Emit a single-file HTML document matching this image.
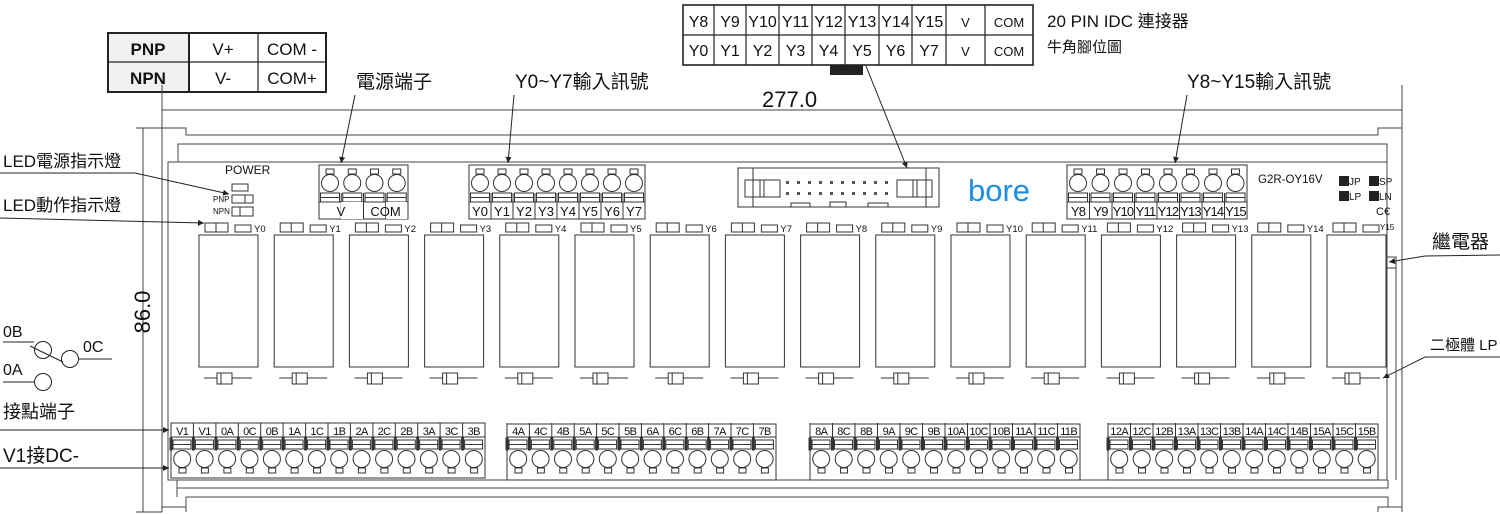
<!DOCTYPE html>
<html><head><meta charset="utf-8"><style>
html,body{margin:0;padding:0;background:#fff;}
svg{display:block;font-family:"Liberation Sans","Noto Sans CJK TC",sans-serif;}
</style></head><body>
<svg width="1500" height="515" viewBox="0 0 1500 515" xmlns="http://www.w3.org/2000/svg">
<defs>
<marker id="ar" viewBox="0 0 10 10" refX="10" refY="5" markerWidth="10" markerHeight="6" orient="auto-start-reverse" markerUnits="userSpaceOnUse"><path d="M0,0L10,5L0,10z" fill="#222"/></marker>
<g id="unit" fill="none" stroke="#333" stroke-width="1">
<rect x="6" y="223" width="23" height="9"/><line x1="17" y1="223" x2="17" y2="232"/>
<rect x="36" y="225" width="16" height="7"/>
<rect x="0" y="235" width="59" height="132"/>
<line x1="5" y1="378" x2="18" y2="378"/><line x1="33" y1="378" x2="53" y2="378"/>
<rect x="18" y="373" width="15" height="11"/><line x1="22" y1="373" x2="22" y2="384"/>
</g>
<g id="bt" fill="none" stroke="#333" stroke-width="1">
<line x1="0" y1="423" x2="0" y2="437"/>
<rect x="2" y="440" width="18" height="9"/><line x1="2" y1="444.5" x2="20" y2="444.5"/>
<rect x="-1" y="438" width="2" height="12" fill="#333"/>
<circle cx="11.2" cy="459" r="8.5"/>
<rect x="8" y="468" width="7" height="5"/>
</g>
<g id="tt" fill="none" stroke="#333" stroke-width="1">
<rect x="7" y="169" width="8" height="5"/>
<circle cx="11" cy="183" r="8.5"/>
<rect x="1.5" y="193" width="19" height="9"/><line x1="1.5" y1="197.5" x2="20.5" y2="197.5"/>
<line x1="0" y1="193" x2="0" y2="219"/>
</g>
</defs>

<!-- PNP table -->
<g stroke="#222" stroke-width="2" fill="none">
<rect x="108" y="33" width="81" height="59" fill="#f1f1f1"/>
<rect x="108" y="33" width="218" height="59"/>
<line x1="108" y1="62" x2="326" y2="62" stroke-width="1.2"/>
<line x1="189" y1="33" x2="189" y2="92" stroke-width="1.2"/><line x1="258" y1="33" x2="258" y2="92" stroke-width="1.2"/>
</g>
<g font-size="17" fill="#111" text-anchor="middle">
<text x="148" y="55" font-weight="bold">PNP</text><text x="148" y="84" font-weight="bold">NPN</text>
<text x="223" y="55">V+</text><text x="223" y="84">V-</text>
<text x="292" y="55">COM -</text><text x="292" y="84">COM+</text>
</g>

<!-- IDC table -->
<g stroke="#222" stroke-width="1.2" fill="none">
<rect x="683" y="5" width="350" height="60" stroke-width="1.6"/>
<line x1="683" y1="35" x2="1033" y2="35"/>
<line x1="714" y1="5" x2="714" y2="65"/><line x1="746" y1="5" x2="746" y2="65"/><line x1="779" y1="5" x2="779" y2="65"/><line x1="812" y1="5" x2="812" y2="65"/><line x1="845" y1="5" x2="845" y2="65"/><line x1="879" y1="5" x2="879" y2="65"/><line x1="912" y1="5" x2="912" y2="65"/><line x1="946" y1="5" x2="946" y2="65"/><line x1="985" y1="5" x2="985" y2="65"/>
</g>
<rect x="830" y="65" width="33" height="10" fill="#222"/>
<g font-size="16" fill="#111" text-anchor="middle">
<text x="698.5" y="27">Y8</text><text x="730" y="27">Y9</text><text x="762.5" y="27">Y10</text><text x="795.5" y="27">Y11</text><text x="828.5" y="27">Y12</text><text x="862" y="27">Y13</text><text x="895.5" y="27">Y14</text><text x="929" y="27">Y15</text><text x="965.5" y="27" font-size="13">V</text><text x="1009" y="27" font-size="13">COM</text>
<text x="698.5" y="56">Y0</text><text x="730" y="56">Y1</text><text x="762.5" y="56">Y2</text><text x="795.5" y="56">Y3</text><text x="828.5" y="56">Y4</text><text x="862" y="56">Y5</text><text x="895.5" y="56">Y6</text><text x="929" y="56">Y7</text><text x="965.5" y="56" font-size="13">V</text><text x="1009" y="56" font-size="13">COM</text>
</g>
<text x="1047" y="27" font-size="17" fill="#111">20 PIN IDC 連接器</text>
<text x="1047" y="52" font-size="15" fill="#111">牛角腳位圖</text>

<!-- top labels -->
<g font-size="19" fill="#111">
<text x="356" y="88">電源端子</text><text x="515" y="88">Y0~Y7輸入訊號</text><text x="1187" y="88">Y8~Y15輸入訊號</text>
</g>
<text x="762" y="107" font-size="22" fill="#111">277.0</text>

<!-- dimension & frame -->
<g stroke="#444" stroke-width="1" fill="none">
<line x1="162" y1="85" x2="162" y2="512"/><line x1="1402" y1="85" x2="1402" y2="512"/>
<line x1="162" y1="110" x2="1402" y2="110"/>
<line x1="143" y1="128" x2="143" y2="512"/><line x1="136" y1="128" x2="162" y2="128"/><line x1="136" y1="512" x2="162" y2="512"/>
<path d="M162,128H186V135H1378V128H1402"/>
<path d="M178,162V144H1387V162"/>
<rect x="168" y="162" width="1219" height="318"/>
<path d="M1387,162V257H1396V268H1387M1396,268V480"/>
<path d="M177,480V488H1388V480"/>
<path d="M186,497H1388V507"/>
<path d="M162,507H186V512M1378,512V507H1402"/>
<line x1="177" y1="488" x2="177" y2="497"/><line x1="186" y1="497" x2="186" y2="507"/>
</g>
<text transform="translate(150,312) rotate(-90)" font-size="22" fill="#111" text-anchor="middle">86.0</text>

<!-- relay units -->
<use href="#unit" x="199"/><use href="#unit" x="274.2"/><use href="#unit" x="349.4"/><use href="#unit" x="424.6"/>
<use href="#unit" x="499.8"/><use href="#unit" x="575"/><use href="#unit" x="650.2"/><use href="#unit" x="725.4"/>
<use href="#unit" x="800.6"/><use href="#unit" x="875.8"/><use href="#unit" x="951"/><use href="#unit" x="1026.2"/>
<use href="#unit" x="1101.4"/><use href="#unit" x="1176.6"/><use href="#unit" x="1251.8"/><use href="#unit" x="1327"/>
<g font-size="9.5" fill="#111">
<text x="254" y="232">Y0</text><text x="329.2" y="232">Y1</text><text x="404.4" y="232">Y2</text><text x="479.6" y="232">Y3</text>
<text x="554.8" y="232">Y4</text><text x="630" y="232">Y5</text><text x="705.2" y="232">Y6</text><text x="780.4" y="232">Y7</text>
<text x="855.6" y="232">Y8</text><text x="930.8" y="232">Y9</text><text x="1006" y="232">Y10</text><text x="1081.2" y="232">Y11</text>
<text x="1156.4" y="232">Y12</text><text x="1231.6" y="232">Y13</text><text x="1306.8" y="232">Y14</text><text x="1380" y="230" font-size="8">Y15</text>
</g>

<!-- power LEDs -->
<text x="225" y="174" font-size="12" fill="#111">POWER</text>
<g fill="none" stroke="#333">
<rect x="232" y="184" width="16" height="7"/>
<rect x="232" y="195" width="21" height="8"/><line x1="245" y1="195" x2="245" y2="203"/>
<rect x="232" y="207" width="21" height="9"/><line x1="240" y1="207" x2="240" y2="216"/>
</g>
<text x="213" y="202" font-size="8" fill="#111">PNP</text><text x="213" y="214" font-size="8" fill="#111">NPN</text>

<!-- top terminal blocks -->
<rect x="319" y="165" width="89" height="54" fill="none" stroke="#333"/>
<line x1="319" y1="202" x2="408" y2="202" stroke="#333"/>
<use href="#tt" x="319"/><use href="#tt" x="341.25"/><use href="#tt" x="363.5"/><use href="#tt" x="385.75"/>
<rect x="341" y="202" width="22" height="17" fill="#fff"/><rect x="386" y="202" width="21" height="17" fill="#fff"/>
<line x1="363.5" y1="202" x2="363.5" y2="219" stroke="#333"/>
<text x="341" y="216" font-size="13" text-anchor="middle" fill="#111">V</text><text x="385.5" y="216" font-size="13" text-anchor="middle" fill="#111">COM</text>

<rect x="469" y="165" width="176" height="54" fill="none" stroke="#333"/>
<line x1="469" y1="202" x2="645" y2="202" stroke="#333"/>
<use href="#tt" x="469"/><use href="#tt" x="491"/><use href="#tt" x="513"/><use href="#tt" x="535"/><use href="#tt" x="557"/><use href="#tt" x="579"/><use href="#tt" x="601"/><use href="#tt" x="623"/>
<g font-size="13" text-anchor="middle" fill="#111">
<text x="480" y="216">Y0</text><text x="502" y="216">Y1</text><text x="524" y="216">Y2</text><text x="546" y="216">Y3</text><text x="568" y="216">Y4</text><text x="590" y="216">Y5</text><text x="612" y="216">Y6</text><text x="634" y="216">Y7</text>
</g>

<rect x="1067" y="165" width="180" height="54" fill="none" stroke="#333"/>
<line x1="1067" y1="202" x2="1247" y2="202" stroke="#333"/>
<use href="#tt" x="1067"/><use href="#tt" x="1089.5"/><use href="#tt" x="1112"/><use href="#tt" x="1134.5"/><use href="#tt" x="1157"/><use href="#tt" x="1179.5"/><use href="#tt" x="1202"/><use href="#tt" x="1224.5"/>
<g font-size="13" text-anchor="middle" fill="#111" letter-spacing="-0.8">
<text x="1078" y="216">Y8</text><text x="1100.5" y="216">Y9</text><text x="1123" y="216">Y10</text><text x="1145.5" y="216">Y11</text><text x="1168" y="216">Y12</text><text x="1190.5" y="216">Y13</text><text x="1213" y="216">Y14</text><text x="1235.5" y="216">Y15</text>
</g>

<!-- IDC header -->
<g fill="none" stroke="#333">
<rect x="738" y="168" width="201" height="39"/>
<path d="M753,168V207M926,168V207"/>
<path d="M745,180H780V197H745Z"/><path d="M760,180V197M764,180V197"/>
<path d="M932,180H897V197H932Z"/><path d="M917,180V197M913,180V197"/>
<rect x="791" y="203" width="19" height="4"/><rect x="830" y="202" width="16" height="5"/><rect x="868" y="203" width="20" height="4"/>
</g>
<g fill="#555">
<rect x="786" y="181" width="3" height="3"/><rect x="797" y="181" width="3" height="3"/><rect x="808" y="181" width="3" height="3"/><rect x="819" y="181" width="3" height="3"/><rect x="830" y="181" width="3" height="3"/><rect x="841" y="181" width="3" height="3"/><rect x="852" y="181" width="3" height="3"/><rect x="863" y="181" width="3" height="3"/><rect x="874" y="181" width="3" height="3"/><rect x="885" y="181" width="3" height="3"/>
<rect x="786" y="192" width="3" height="3"/><rect x="797" y="192" width="3" height="3"/><rect x="808" y="192" width="3" height="3"/><rect x="819" y="192" width="3" height="3"/><rect x="830" y="192" width="3" height="3"/><rect x="841" y="192" width="3" height="3"/><rect x="852" y="192" width="3" height="3"/><rect x="863" y="192" width="3" height="3"/><rect x="874" y="192" width="3" height="3"/><rect x="885" y="192" width="3" height="3"/>
</g>
<text x="968" y="201" font-size="31" fill="#1e8fe0" font-weight="normal">bore</text>

<text x="1258" y="183" font-size="11.5" fill="#111">G2R-OY16V</text>
<g fill="#222"><rect x="1339" y="176" width="10" height="10"/><rect x="1369" y="176" width="10" height="10"/><rect x="1339" y="191" width="10" height="10"/><rect x="1369" y="191" width="10" height="10"/></g>
<g font-size="10" fill="#111"><text x="1349" y="185">JP</text><text x="1379" y="185">SP</text><text x="1349" y="200">LP</text><text x="1379" y="200">LN</text><text x="1376" y="215" font-size="11">C€</text></g>

<!-- bottom terminal blocks -->
<g fill="none" stroke="#333">
<rect x="171" y="423" width="314" height="55"/><line x1="171" y1="437" x2="485" y2="437"/>
<rect x="507" y="424" width="269" height="56"/><line x1="507" y1="437" x2="776" y2="437"/>
<rect x="810" y="424" width="270" height="56"/><line x1="810" y1="437" x2="1080" y2="437"/>
<rect x="1108" y="424" width="270" height="56"/><line x1="1108" y1="437" x2="1378" y2="437"/>
</g>
<use href="#bt" x="171"/><use href="#bt" x="193.4"/><use href="#bt" x="215.9"/><use href="#bt" x="238.3"/><use href="#bt" x="260.7"/><use href="#bt" x="283.1"/><use href="#bt" x="305.6"/><use href="#bt" x="328"/><use href="#bt" x="350.4"/><use href="#bt" x="372.9"/><use href="#bt" x="395.3"/><use href="#bt" x="417.7"/><use href="#bt" x="440.1"/><use href="#bt" x="462.6"/>
<use href="#bt" x="507"/><use href="#bt" x="529.4"/><use href="#bt" x="551.8"/><use href="#bt" x="574.2"/><use href="#bt" x="596.6"/><use href="#bt" x="619"/><use href="#bt" x="641.4"/><use href="#bt" x="663.8"/><use href="#bt" x="686.2"/><use href="#bt" x="708.6"/><use href="#bt" x="731"/><use href="#bt" x="753.4"/>
<use href="#bt" x="810"/><use href="#bt" x="832.5"/><use href="#bt" x="855"/><use href="#bt" x="877.5"/><use href="#bt" x="900"/><use href="#bt" x="922.5"/><use href="#bt" x="945"/><use href="#bt" x="967.5"/><use href="#bt" x="990"/><use href="#bt" x="1012.5"/><use href="#bt" x="1035"/><use href="#bt" x="1057.5"/>
<use href="#bt" x="1108"/><use href="#bt" x="1130.5"/><use href="#bt" x="1153"/><use href="#bt" x="1175.5"/><use href="#bt" x="1198"/><use href="#bt" x="1220.5"/><use href="#bt" x="1243"/><use href="#bt" x="1265.5"/><use href="#bt" x="1288"/><use href="#bt" x="1310.5"/><use href="#bt" x="1333"/><use href="#bt" x="1355.5"/>
<g font-size="11" text-anchor="middle" fill="#111" letter-spacing="-0.6">
<text x="182.2" y="435">V1</text><text x="204.6" y="435">V1</text><text x="227.1" y="435">0A</text><text x="249.5" y="435">0C</text><text x="271.9" y="435">0B</text><text x="294.3" y="435">1A</text><text x="316.8" y="435">1C</text><text x="339.2" y="435">1B</text><text x="361.6" y="435">2A</text><text x="384.1" y="435">2C</text><text x="406.5" y="435">2B</text><text x="428.9" y="435">3A</text><text x="451.3" y="435">3C</text><text x="473.8" y="435">3B</text>
<text x="518.2" y="435">4A</text><text x="540.6" y="435">4C</text><text x="563" y="435">4B</text><text x="585.4" y="435">5A</text><text x="607.8" y="435">5C</text><text x="630.2" y="435">5B</text><text x="652.6" y="435">6A</text><text x="675" y="435">6C</text><text x="697.4" y="435">6B</text><text x="719.8" y="435">7A</text><text x="742.2" y="435">7C</text><text x="764.6" y="435">7B</text>
<text x="821.2" y="435">8A</text><text x="843.7" y="435">8C</text><text x="866.2" y="435">8B</text><text x="888.7" y="435">9A</text><text x="911.2" y="435">9C</text><text x="933.7" y="435">9B</text><text x="956.2" y="435">10A</text><text x="978.7" y="435">10C</text><text x="1001.2" y="435">10B</text><text x="1023.7" y="435">11A</text><text x="1046.2" y="435">11C</text><text x="1068.7" y="435">11B</text>
<text x="1119.2" y="435">12A</text><text x="1141.7" y="435">12C</text><text x="1164.2" y="435">12B</text><text x="1186.7" y="435">13A</text><text x="1209.2" y="435">13C</text><text x="1231.7" y="435">13B</text><text x="1254.2" y="435">14A</text><text x="1276.7" y="435">14C</text><text x="1299.2" y="435">14B</text><text x="1321.7" y="435">15A</text><text x="1344.2" y="435">15C</text><text x="1366.7" y="435">15B</text>
</g>

<!-- leader lines -->
<g stroke="#222" stroke-width="1" fill="none">
<line x1="355" y1="95" x2="341" y2="163" marker-end="url(#ar)"/>
<line x1="514" y1="95" x2="508" y2="163" marker-end="url(#ar)"/>
<line x1="1187" y1="95" x2="1175" y2="163" marker-end="url(#ar)"/>
<line x1="866" y1="66" x2="907" y2="168" marker-end="url(#ar)"/>
<polyline points="0,173 135,173 229,194" marker-end="url(#ar)"/>
<line x1="0" y1="218" x2="204" y2="223" marker-end="url(#ar)"/>
<line x1="0" y1="430" x2="169" y2="430" marker-end="url(#ar)"/>
<line x1="0" y1="468" x2="169" y2="468" marker-end="url(#ar)"/>
<polyline points="1500,255 1425,256 1389,262" marker-end="url(#ar)"/>
<polyline points="1500,357 1425,357 1383,378" marker-end="url(#ar)"/>
<!-- switch -->
<line x1="3" y1="342" x2="34" y2="342"/><circle cx="43" cy="350" r="8.5"/>
<line x1="30" y1="346" x2="63" y2="362"/><circle cx="70" cy="359" r="8.5"/><line x1="79" y1="359" x2="112" y2="359"/>
<line x1="3" y1="382" x2="34" y2="382"/><circle cx="43" cy="382" r="8.5"/>
</g>
<g fill="#111">
<text x="3" y="167" font-size="17">LED電源指示燈</text>
<text x="3" y="211" font-size="17">LED動作指示燈</text>
<text x="3" y="337" font-size="16">0B</text><text x="83" y="352" font-size="16">0C</text><text x="3" y="375" font-size="16">0A</text>
<text x="3" y="418" font-size="18">接點端子</text>
<text x="3" y="462" font-size="19">V1接DC-</text>
<text x="1432" y="248" font-size="19">繼電器</text>
<text x="1430" y="350" font-size="15">二極體 LP</text>
</g>
</svg>
</body></html>
